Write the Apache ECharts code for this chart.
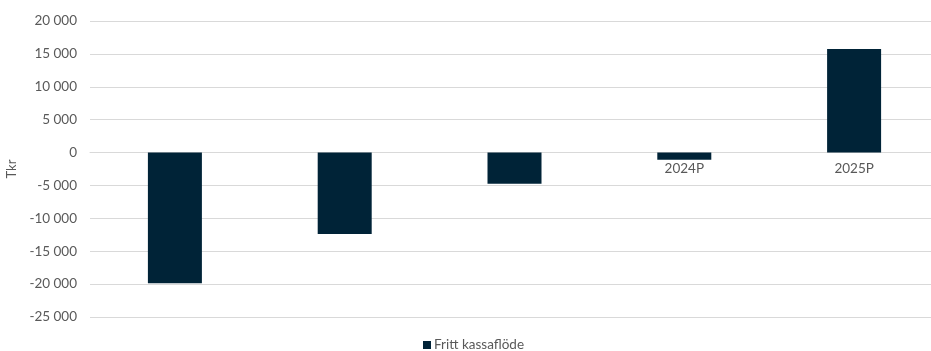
<!DOCTYPE html>
<html>
<head>
<meta charset="utf-8">
<style>
  html, body { margin: 0; padding: 0; background: #ffffff; }
  #chart { width: 931px; height: 351px; }
</style>
<script src="https://cdn.jsdelivr.net/npm/echarts@6/dist/echarts.min.js"></script>
</head>
<body>
<div id="chart"></div>
<script>
// Free cash flow per year (Tkr)
const categories = ['2021P', '2022P', '2023P', '2024P', '2025P'];
const cashFlow = [-19860, -12370, -4730, -1100, 15750];
const seriesName = 'Fritt kassaflöde';
const yMin = -25000;
const yMax = 20000;
const yStep = 5000;

const textColor = '#595959';
const gridColor = '#d9d9d9';
const barColor = '#002337';
const font = 'Lato, "Open Sans", sans-serif';

const gridTop = 21;
const gridHeight = 296;
// Lift the category axis from the bottom of the grid up to the zero line
const zeroOffset = -gridHeight * (0 - yMin) / (yMax - yMin);

function formatThousands(v) {
  const s = Math.abs(v).toString().replace(/\B(?=(\d{3})+(?!\d))/g, ' ');
  return (v < 0 ? '-' : '') + s;
}

const chart = echarts.init(document.getElementById('chart'), null, { renderer: 'canvas' });
chart.setOption({
  animation: false,
  textStyle: { fontFamily: font },
  grid: { left: 90, width: 849, top: gridTop, height: gridHeight, containLabel: false, outerBoundsMode: 'none' },
  legend: {
    top: 338,
    left: 423,
    itemWidth: 8,
    itemHeight: 8,
    icon: 'rect',
    itemGap: 10,
    padding: 0,
    textStyle: { color: textColor, fontSize: 13.5, fontFamily: font, padding: [0, 0, 0, -2] },
    data: [seriesName]
  },
  xAxis: {
    type: 'category',
    data: categories,
    offset: zeroOffset,
    axisLine: { show: true, onZero: false, lineStyle: { color: gridColor, width: 1 } },
    axisTick: { show: false },
    axisLabel: { color: textColor, fontSize: 13.5, margin: 9, fontFamily: font },
    z: 0
  },
  yAxis: {
    type: 'value',
    min: yMin,
    max: yMax,
    interval: yStep,
    name: 'Tkr',
    nameLocation: 'middle',
    nameGap: 72,
    nameRotate: 90,
    nameTextStyle: { color: textColor, fontSize: 13, fontFamily: font },
    axisLine: { show: false },
    axisTick: { show: false },
    axisLabel: {
      color: textColor,
      fontSize: 13.5,
      margin: 13,
      fontFamily: font,
      formatter: formatThousands
    },
    splitLine: { lineStyle: { color: gridColor, width: 1 } }
  },
  series: [{
    name: seriesName,
    type: 'bar',
    data: cashFlow,
    barWidth: 54,
    itemStyle: { color: barColor },
    z: 3
  }]
});
</script>
</body>
</html>
